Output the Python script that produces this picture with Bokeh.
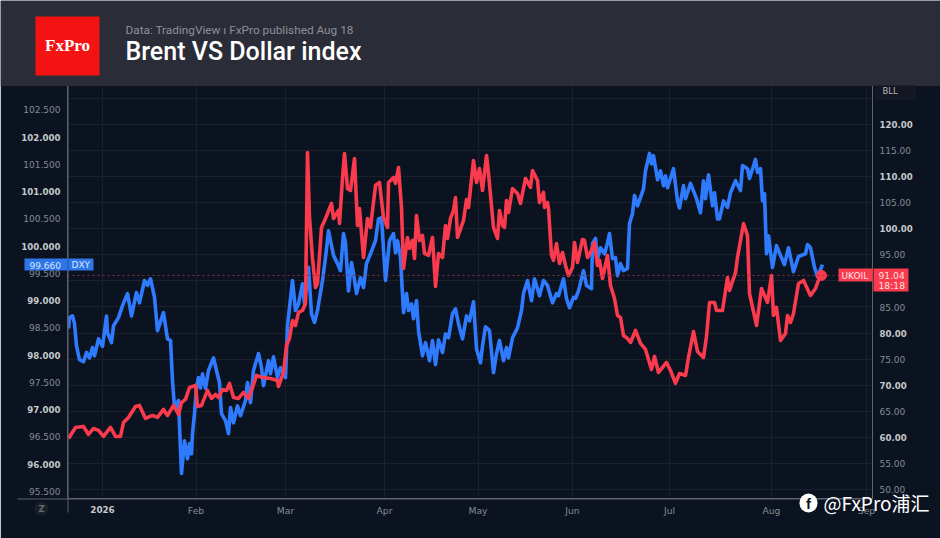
from bokeh.plotting import figure
from bokeh.models import (Range1d, LinearAxis, FixedTicker, Label, BoxAnnotation, Span, Grid)
from bokeh.embed import file_html
from bokeh.resources import INLINE

tick_sessions = [34.5, 128.5, 218, 317, 410.5, 505, 602, 704, 799]
tick_months = ["2026", "Feb", "Mar", "Apr", "May", "Jun", "Jul", "Aug", "Sep"]
dxy_major = [96, 97, 98, 99, 100, 101, 102]
dxy_minor = [95.5, 96.5, 97.5, 98.5, 99.5, 100.5, 101.5, 102.5]
oil_major = [60, 70, 80, 100, 110, 120]
oil_minor = [50, 55, 65, 75, 85, 95, 105, 115]
oil_grid = [50, 55, 60, 65, 70, 75, 80, 85, 90, 95, 100, 105, 110, 115, 120, 125]
dxy_last = 99.66
oil_last = 91.04

dxy_session = [1,2,5,7,9,12,16,19,22,25,
27,31,35,39,40,44,46,51,55,60,
64,69,72,77,80,83,87,90,96,100,
103,105,107,111,113,114,117,120,122,124,
125,127,129,131,133,135,138,141,146,149,
152,154,158,161,163,166,170,173,178,180,
183,186,191,194,196,201,203,206,210,213,
218,220,225,228,231,235,237,241,244,247,
250,255,258,261,266,270,273,276,278,281,
284,286,289,293,296,299,303,308,311,314,
318,322,326,328,330,333,336,339,341,344,
346,349,351,355,358,362,365,368,371,375,
378,381,385,388,391,395,399,402,406,409,
413,415,418,422,426,429,432,436,439,441,
445,450,454,456,460,464,467,472,476,480,
485,489,491,496,499,502,506,508,511,516,
519,524,525,528,530,533,537,540,542,545,
548,550,553,556,560,562,565,567,570,576,
578,582,584,586,590,593,596,598,600,606,
610,612,616,618,623,629,633,636,638,641,
645,647,650,652,656,660,663,668,673,675,
680,682,688,690,693,695,697,699,701,705,
709,713,717,721,726,731,738,740,743,747,
750,755]
dxy_values = [98.49,98.69,98.72,98.58,98.17,97.92,97.88,98.05,97.95,98.14,
97.99,98.30,98.16,98.72,98.41,98.23,98.54,98.69,98.91,99.13,
98.72,99.15,98.96,99.37,99.28,99.40,99.06,98.45,98.78,98.30,
98.27,97.53,97.04,97.17,96.25,95.83,96.43,96.10,96.38,96.19,
96.56,96.93,97.40,97.59,97.40,97.66,97.39,97.72,97.95,97.72,
97.50,96.93,96.80,96.56,97.04,96.76,97.07,96.89,97.17,97.50,
97.13,97.72,98.03,97.77,97.44,97.90,97.66,97.97,97.59,97.77,
97.59,98.54,99.37,98.82,98.94,99.31,98.94,99.61,98.76,98.60,
98.82,99.37,99.79,100.28,99.83,99.68,99.55,100.23,100.05,99.18,
99.70,99.50,99.13,99.42,99.24,99.68,99.86,100.10,100.50,100.52,
99.37,100.10,100.23,99.88,100.10,99.79,98.78,99.13,98.82,98.94,
98.67,99.00,98.45,97.99,98.23,97.90,98.27,97.83,98.28,98.05,
98.39,98.32,98.76,98.85,98.58,98.30,98.72,98.63,98.98,98.12,
97.86,98.17,98.52,98.45,97.68,98.03,98.27,97.90,98.14,97.95,
98.32,98.50,98.82,99.13,99.37,99.00,99.40,99.09,99.37,99.28,
98.96,99.13,99.09,99.40,99.04,98.87,99.06,99.04,99.18,99.55,
99.28,99.22,100.05,100.14,99.77,99.97,99.86,100.06,100.23,99.77,
99.79,99.46,99.68,99.55,99.59,100.41,100.60,100.93,100.74,101.05,
101.38,101.70,101.51,101.66,101.22,101.38,101.11,101.29,101.07,101.42,
100.83,100.70,101.11,100.87,101.15,100.87,100.61,101.20,100.87,101.31,
100.74,100.98,100.50,100.50,100.83,100.71,100.98,101.20,101.02,101.48,
101.42,101.24,101.59,101.35,101.42,100.83,100.96,99.86,100.19,99.61,
100.01,99.83,99.66,99.97,99.53,99.81,99.86,100.03,99.97,99.61,
99.44,99.66]

oil_session = [1,8,16,21,26,31,36,43,48,53,
56,61,68,72,78,85,90,96,100,106,
111,114,118,122,128,130,134,140,144,148,
151,155,159,162,166,171,176,181,185,189,
195,203,210,211,216,219,222,225,228,231,
235,238,240,242,245,248,250,254,258,264,
266,271,272,275,277,280,283,287,290,292,
296,300,303,308,312,316,320,321,326,328,
331,334,336,340,342,345,347,349,352,355,
357,361,365,368,371,375,378,380,383,386,
388,390,396,399,401,406,409,412,415,419,
421,426,430,432,435,437,439,441,445,450,
453,458,463,465,470,472,476,477,480,481,
484,486,489,492,495,498,501,505,507,510,
515,517,520,523,527,530,532,535,540,543,
547,550,553,556,560,563,568,573,578,584,
587,591,599,603,608,612,618,621,626,630,
636,639,642,647,649,655,660,662,668,670,
676,680,682,689,694,700,704,706,709,713,
718,720,723,726,731,736,743,748,752,754]
oil_values = [59.83,61.93,62.13,60.59,61.74,61.36,60.21,61.93,60.21,60.21,
62.89,63.85,65.96,66.15,63.66,64.23,63.85,65.38,64.23,66.15,
64.42,66.72,67.30,69.59,69.98,65.96,66.15,69.02,67.49,68.25,
67.68,69.21,69.02,70.36,67.68,67.49,68.64,67.49,69.59,71.89,
71.51,71.32,70.93,69.78,72.46,77.63,78.97,82.42,81.46,83.95,
84.34,85.68,114.59,102.14,94.29,88.74,89.50,100.23,101.95,104.82,
101.95,103.48,100.99,109.61,114.39,107.69,107.31,113.44,100.61,103.86,
94.48,101.95,100.23,108.27,108.84,102.14,100.23,108.84,109.80,108.65,
111.71,104.06,92.38,98.31,96.21,97.74,94.29,102.52,97.74,98.69,
95.25,94.87,98.31,88.93,95.25,94.48,100.61,98.12,101.95,103.48,
105.97,98.31,101.57,105.59,104.06,113.05,108.84,111.52,107.31,114.01,
110.57,100.23,98.12,103.48,100.61,100.23,105.40,103.10,107.69,106.74,
104.82,109.61,107.89,111.14,109.23,105.01,106.93,104.06,105.01,103.86,
94.87,93.91,97.16,93.33,95.44,92.95,91.04,92.57,97.35,93.53,
97.93,97.74,94.48,95.44,97.35,92.95,93.91,90.46,94.87,89.12,
86.63,83.38,82.99,79.55,78.97,78.21,80.51,78.02,76.87,73.04,
75.53,72.46,74.38,72.85,70.36,72.27,71.89,75.34,80.31,76.49,
75.34,79.36,85.87,85.87,84.34,84.34,90.65,88.16,91.61,94.48,
100.99,98.69,87.59,81.46,88.55,85.87,91.04,83.38,84.91,78.59,
79.93,83.38,82.04,83.76,89.50,90.08,87.21,88.55,90.65,91.04]

BG = "#0b1320"
GRID = "#1a212b"
AXIS = "#5f636a"
NORMAL = "#878b92"
BOLD = "#c6c8cc"
BLUE = "#2f7bff"
RED = "#fa3a4d"
HEADER = "#2a2c37"

p = figure(width=940, height=538, frame_width=805, frame_height=413,
           output_backend="svg", toolbar_location=None,
           x_range=Range1d(0, 805), y_range=Range1d(95.372, 102.946),
           x_axis_type=None, y_axis_type=None,
           min_border_left=67, min_border_right=68, min_border_top=85, min_border_bottom=40,
           background_fill_color=BG, border_fill_color=BG, outline_line_color=None)
p.outline_line_alpha = 0
p.extra_y_ranges = {"oil": Range1d(48.33, 127.41)}

p.add_layout(Grid(dimension=0, ticker=FixedTicker(ticks=tick_sessions), grid_line_color=GRID))
p.add_layout(Grid(dimension=1, y_range_name="oil", ticker=FixedTicker(ticks=oil_grid), grid_line_color=GRID))

def style_axis(ax, size=8.6, color=BOLD, bold=True):
    ax.axis_line_color = AXIS
    ax.major_tick_line_color = None
    ax.minor_tick_line_color = None
    ax.major_tick_out = 0
    ax.major_tick_in = 0
    ax.minor_tick_out = 0
    ax.minor_tick_in = 0
    ax.major_label_text_font = "DejaVu Sans"
    ax.major_label_text_font_size = f"{size}px"
    ax.major_label_text_color = color
    ax.major_label_text_font_style = "bold" if bold else "normal"
    ax.major_label_standoff = 7

left = LinearAxis(ticker=FixedTicker(ticks=dxy_major),
                  major_label_overrides={v: f"{v:.3f}" for v in dxy_major})
style_axis(left)
p.add_layout(left, "left")

right = LinearAxis(y_range_name="oil", ticker=FixedTicker(ticks=oil_major),
                   major_label_overrides={v: f"{v:.2f}" for v in oil_major})
style_axis(right)
p.add_layout(right, "right")

bottom = LinearAxis(ticker=FixedTicker(ticks=tick_sessions[1:]),
                    major_label_overrides=dict(zip(tick_sessions[1:], tick_months[1:])))
style_axis(bottom, size=9.2, color=NORMAL, bold=False)
bottom.major_label_standoff = 6
p.add_layout(bottom, "below")

p.add_layout(Span(location=oil_last, dimension="width", y_range_name="oil",
                  line_color="#8d2f3f", line_dash="2 3", line_width=1))

p.line(dxy_session, dxy_values, line_color=BLUE, line_width=3.6, line_join="round")
p.line(oil_session, oil_values, y_range_name="oil", line_color=RED, line_width=3.6, line_join="round")
p.scatter(oil_session[-1:], oil_values[-1:], y_range_name="oil", size=10, color=RED)

# transparent layer over the chart, same scales, frame over the whole canvas
d = figure(width=940, height=538, output_backend="svg", toolbar_location=None,
           x_range=Range1d(-67, 873), y_range=Range1d(94.638, 104.504),
           x_axis_type=None, y_axis_type=None, min_border=0,
           background_fill_color=None, border_fill_color=None, outline_line_color=None)
d.outline_line_alpha = 0
d.extra_y_ranges = {"oil": Range1d(40.68, 143.68)}
d.grid.visible = False
d.margin = (-538, 0, 0, 0)

def box(l, t, r, b, color, radius=0, line=None):
    d.add_layout(BoxAnnotation(left=l, right=r, top=t, bottom=b,
                               left_units="canvas", right_units="canvas",
                               top_units="canvas", bottom_units="canvas",
                               fill_color=color, fill_alpha=1,
                               line_color=line, border_radius=radius))

def text(x, y, s, size, color, font="DejaVu Sans", style="normal", align="left"):
    d.add_layout(Label(x=x, y=y, x_units="canvas", y_units="canvas", text=s,
                       text_font=font, text_font_size=f"{size}px", text_color=color,
                       text_font_style=style, text_align=align, text_baseline="middle"))

for v in dxy_minor:
    d.add_layout(Label(x=-7, y=v, text=f"{v:.3f}", text_font="DejaVu Sans", text_font_size="9px",
                       text_color=NORMAL, text_align="right", text_baseline="middle"))
for v in oil_minor:
    d.add_layout(Label(x=812, y=v, y_range_name="oil", text=f"{v:.2f}", text_font="DejaVu Sans",
                       text_font_size="9px", text_color=NORMAL, text_align="left", text_baseline="middle"))

# axis line extensions
box(67, 85, 68, 512, AXIS)
box(17, 498, 872, 499, AXIS)
text(102, 509, tick_months[0], 8.8, BOLD, style="bold", align="center")
box(34, 501, 48, 515, "#1a2029", radius=7)
text(41, 508, "Z", 8.5, "#666a70", style="bold", align="center")

# last value tags
box(24, 258, 93, 270, "#2e76e8")
box(67, 258, 68, 270, "#1f57ad")
text(29, 264.5, f"{dxy_last:.3f}", 9, "#d8e6ff")
text(71, 264.5, "DXY", 9, "#d8e6ff")
box(838, 268, 872, 281, RED)
box(873, 268, 908, 291, RED)
text(841, 275, "UKOIL", 9, "#ffe3e6")
text(878, 275, f"{oil_last:.2f}", 9.2, "#ffe3e6")
text(878, 285, "18:18", 9.2, "#ffe3e6")

# header
box(0, 0, 940, 85.5, HEADER)
box(875, 85, 915, 99, "#131722", radius=2, line="#20242d")
text(882, 90.5, "BLL", 8.5, "#b0b2b6")
box(35, 16, 99, 75, "#f51212")
text(67, 45, "FxPro", 17, "#ffffff", font="Liberation Serif", style="bold", align="center")
text(125, 29, "Data: TradingView  ı  FxPro published Aug 18", 11.8, "#8f9199", font="Roboto")
text(125, 51, "Brent VS Dollar index", 25, "#ffffff", font="Roboto Medium, Roboto")

# watermark
box(799, 493, 817, 512, "#ffffff", radius=9)
text(808, 503, "f", 15, "#111722", font="Liberation Sans", style="bold", align="center")
text(823, 502, "@FxPro浦汇", 19, "#ffffff", font="Noto Sans CJK SC")

open("out.html", "w").write(file_html([p, d], INLINE))
